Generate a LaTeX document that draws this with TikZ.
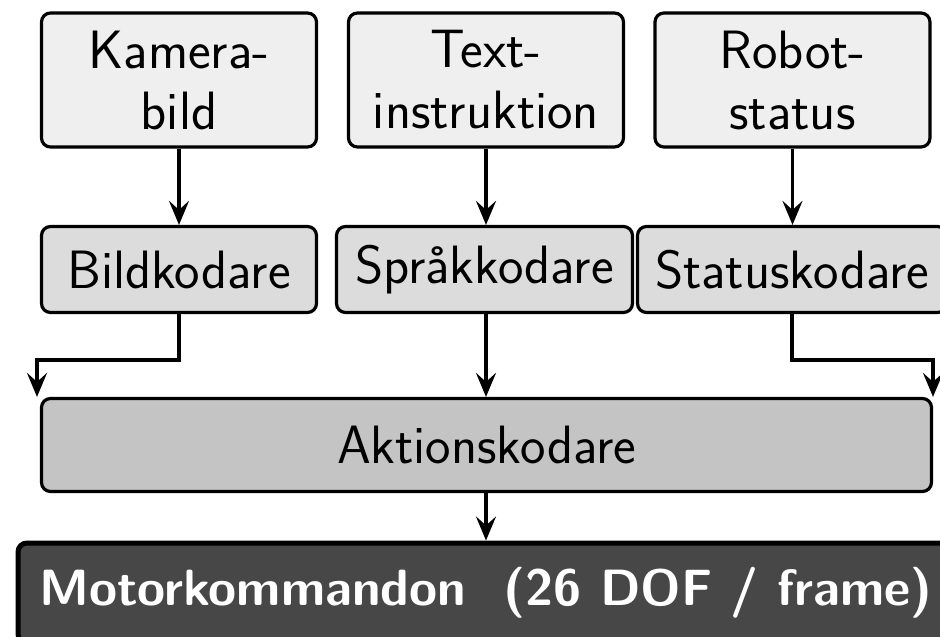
\documentclass[tikz,border=0pt]{standalone}
\usetikzlibrary{arrows.meta}
\definecolor{inbox}{HTML}{EFEFEF}
\definecolor{encbox}{HTML}{DCDCDC}
\definecolor{actbox}{HTML}{C4C4C4}
\definecolor{outbox}{HTML}{474747}
\tikzset{
  base/.style={draw=black, line width=3.2pt, rounded corners=9pt, inner sep=0pt,
    font=\fontsize{54}{61}\selectfont\sffamily, align=center},
  inputbox/.style={base, fill=inbox, minimum width=275pt, minimum height=134pt},
  encoder/.style={base, fill=encbox, minimum height=86pt},
  actionbox/.style={base, fill=actbox, minimum width=890pt, minimum height=93pt},
  outputbox/.style={base, line width=5pt, fill=outbox, text=white,
    font=\fontsize{51}{61}\selectfont\sffamily\bfseries, minimum width=936pt, minimum height=100pt},
  flow/.style={draw=black, line width=3.2pt, -{Stealth[length=24pt,width=20pt,inset=9pt]}}
}
\begin{document}
\begin{tikzpicture}[x=1pt,y=-1pt]
\useasboundingbox (0,0) rectangle (940,637);
\node[inputbox] (cam) at (179,80) {Kamera-\\bild};
\node[inputbox] (txt) at (486,80) {Text-\\instruktion};
\node[inputbox] (rob) at (792.5,80) {Robot-\\status};
\node[encoder, minimum width=275pt] (bild) at (179,269.5) {Bildkodare};
\node[encoder, minimum width=296pt] (sprak) at (484.5,269.5) {Språkkodare};
\node[encoder, minimum width=309pt] (stat) at (792,269.5) {Statuskodare};
\node[actionbox] (akt) at (486.5,445) {Aktionskodare};
\node[outputbox] (mot) at (486,593) {Motorkommandon\ \ (26 DOF / frame)};
\coordinate (bl) at (37,360);
\coordinate (br) at (933,360);
\draw[flow] (cam.south) -- (bild.north);
\draw[flow] (txt.south) -- (txt.south |- sprak.north);
\draw[flow] (rob.south) -- (rob.south |- stat.north);
\draw[flow] (bild.south) |- (bl) -- (bl |- akt.north);
\draw[flow] (txt.south |- sprak.south) -- (txt.south |- akt.north);
\draw[flow] (stat.south) |- (br) -- (br |- akt.north);
\draw[flow] (txt.south |- akt.south) -- (txt.south |- mot.north);
\end{tikzpicture}
\end{document}
